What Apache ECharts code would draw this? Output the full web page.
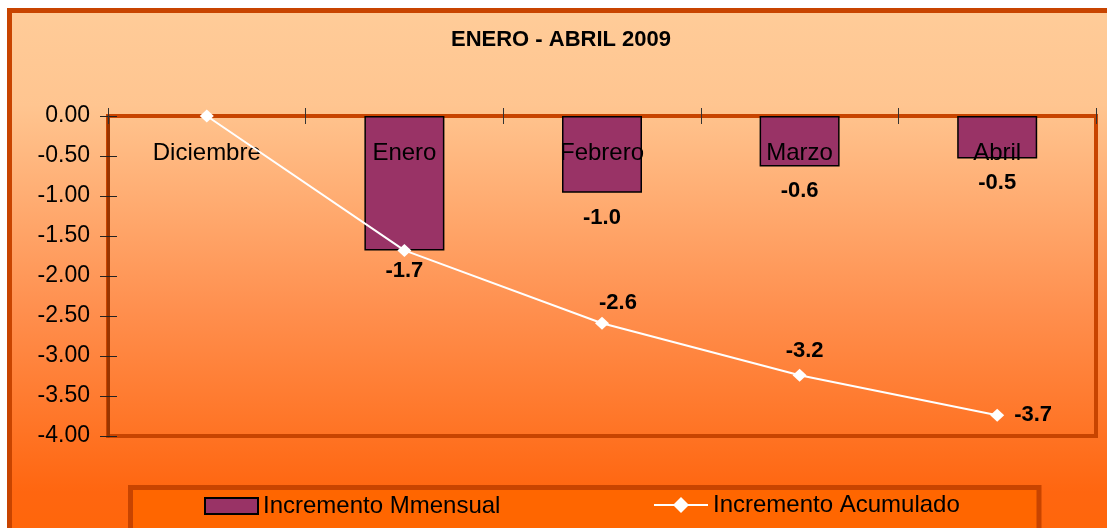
<!DOCTYPE html>
<html>
<head>
<meta charset="utf-8">
<script src="https://cdn.jsdelivr.net/npm/echarts@6/dist/echarts.min.js"></script>
<style>
  html, body { margin: 0; padding: 0; background: #ffffff; }
  #chart { width: 1107px; height: 528px; }
</style>
</head>
<body>
<div id="chart"></div>
<script>
// datos
const categorias = ['Diciembre', 'Enero', 'Febrero', 'Marzo', 'Abril'];
const incrementoMensual = ['-', -1.68, -0.96, -0.63, -0.53];
const incrementoAcumulado = [0, -1.68, -2.59, -3.24, -3.74];
const yTicks = [0, -0.5, -1, -1.5, -2, -2.5, -3, -3.5, -4];

const FONT = 'Liberation Sans, Arial, sans-serif';
const borde = '#C84400';

let myChart = echarts.init(document.getElementById('chart'));

// etiquetas de la linea: cada punto con su propia posicion
const posLinea = [
  { show: false },
  { show: true, position: 'bottom', distance: 3 },
  { position: 'top', distance: 3, offset: [16, 0] },
  { position: 'top', distance: 7, offset: [5, 0] },
  { position: 'right', distance: 10 }
];

const lblStyle = { fontFamily: FONT, fontSize: 22, fontWeight: 'bold', color: '#000' };

let option = {
  animation: false,
  graphic: [
    {
      type: 'rect', z: -100, silent: true,
      shape: { x: 9.5, y: 10.5, width: 1200, height: 600 },
      style: {
        stroke: borde, lineWidth: 5,
        fill: new echarts.graphic.LinearGradient(0, 0, 0, 1, [
          { offset: 0, color: '#FFCC99' },
          { offset: 0.16, color: '#FFC590' },
          { offset: 0.5, color: '#FF8F4E' },
          { offset: 0.8, color: '#FF6610' },
          { offset: 1, color: '#FF6600' }
        ])
      }
    },
    {
      type: 'rect', z: -50, silent: true,
      shape: { x: 130.5, y: 487.5, width: 908.5, height: 80 },
      style: { stroke: borde, lineWidth: 5, fill: '#FF6600' }
    }
  ],
  title: {
    text: 'ENERO - ABRIL 2009',
    left: 561, top: 29, padding: 0, textAlign: 'center',
    textStyle: { fontFamily: FONT, fontSize: 22, fontWeight: 'bold', color: '#000' }
  },
  legend: [
    {
      data: [{ name: 'Incremento Mmensual', icon: 'rect' }], left: 204, top: 494, padding: 0,
      itemWidth: 53, itemHeight: 16,
      textStyle: { fontFamily: FONT, fontSize: 24, color: '#000' }
    },
    {
      data: ['Incremento Acumulado'], left: 653, top: 493, padding: 0,
      itemWidth: 54, itemHeight: 20,
      textStyle: { fontFamily: FONT, fontSize: 24, color: '#000' }
    }
  ],
  grid: {
    left: 108, top: 116, right: 11, bottom: 92,
    show: true, borderColor: borde, borderWidth: 4,
    backgroundColor: 'transparent'
  },
  xAxis: [
    {
      type: 'category', data: categorias, position: 'top', z: 3,
      axisLine: { show: false },
      axisTick: { show: true, length: 8, lineStyle: { color: '#333', width: 1 } },
      axisLabel: { inside: true, margin: 25, fontFamily: FONT, fontSize: 24, color: '#000' },
      splitLine: { show: false }
    },
    {
      type: 'category', data: categorias, position: 'top',
      axisLine: { show: false },
      axisTick: { show: true, inside: true, length: 8, lineStyle: { color: '#333', width: 1 } },
      axisLabel: { show: false },
      splitLine: { show: false }
    }
  ],
  yAxis: [
    {
      type: 'value', min: -4, max: 0, interval: 0.5,
      axisLine: { show: true, lineStyle: { color: '#9A3500', width: 3 } },
      axisTick: { show: true, length: 8, lineStyle: { color: '#222', width: 1 } },
      axisLabel: {
        margin: 18, fontFamily: FONT, fontSize: 23, color: '#000',
        formatter: v => v.toFixed(2)
      },
      splitLine: { show: false }
    },
    {
      type: 'value', min: -4, max: 0, interval: 0.5, position: 'left',
      axisLine: { show: false },
      axisTick: { show: true, inside: true, length: 9, lineStyle: { color: '#222', width: 1 } },
      axisLabel: { show: false },
      splitLine: { show: false }
    }
  ],
  series: [
    {
      name: 'Incremento Mmensual',
      type: 'bar',
      barWidth: 80,
      z: 2,
      itemStyle: { color: '#993366', borderColor: '#000', borderWidth: 1.5 },
      data: incrementoMensual.map((v, i) => ({
        value: v,
        label: { show: i > 1 }
      })),
      label: Object.assign({
        position: 'bottom', distance: 14,
        formatter: p => Number(p.value).toFixed(1)
      }, lblStyle)
    },
    {
      name: 'Incremento Acumulado',
      type: 'line',
      z: 5,
      symbol: 'diamond',
      symbolSize: [14, 13],
      lineStyle: { color: '#fff', width: 2 },
      itemStyle: { color: '#fff' },
      data: incrementoAcumulado.map((v, i) => ({ value: v, label: posLinea[i] })),
      label: Object.assign({
        show: true,
        formatter: p => Number(p.value).toFixed(1)
      }, lblStyle)
    }
  ]
};

myChart.setOption(option);
</script>
</body>
</html>
